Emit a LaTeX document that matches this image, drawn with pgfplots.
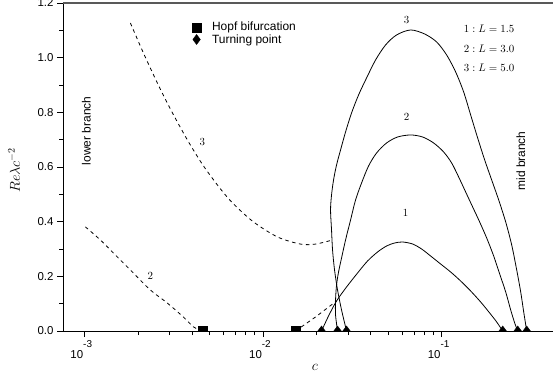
\documentclass[border=0pt]{standalone}
\usepackage[no-math]{fontspec}
\setmainfont{Liberation Sans}
\usepackage{pgfplots}
\pgfplotsset{compat=1.18}
\newcommand{\tenp}[1]{10\raisebox{0.98em}{\fontsize{10}{10}\selectfont #1}}
\begin{document}
\begin{tikzpicture}
\begin{axis}[
  scale only axis, width=490bp, height=328bp,
  xmode=log, xmin=7.6e-4, xmax=0.42, ymin=0, ymax=1.2,
  axis x line*=bottom, axis y line*=left,
  axis line style={line width=0.9pt, black},
  tick align=outside,
  major tick length=6bp, minor tick length=4bp,
  every tick/.style={black, line width=0.7pt},
  xtick={0.001,0.01,0.1},
  xticklabels={{\tenp{-3}},{\tenp{-2}},{\tenp{-1}}},
  xticklabel style={xshift=-3bp},
  ytick={0,0.2,0.4,0.6,0.8,1.0,1.2},
  minor ytick={0.1,0.3,0.5,0.7,0.9,1.1},
  yticklabel={\pgfmathprintnumber[fixed,fixed zerofill,precision=1,assume math mode=true]{\tick}},
  tick label style={font=\fontsize{11.5}{12}\selectfont},
  xlabel={$c$}, ylabel={$Re\lambda c^{-2}$},
  xlabel style={at={(axis description cs:0.514,-0.11)}, anchor=center, font=\fontsize{14}{14}\selectfont},
  ylabel style={at={(axis description cs:-0.1,0.49)}, anchor=center, font=\fontsize{14}{14}\selectfont},
  clip marker paths=true,
  legend style={at={(0.257,0.954)}, anchor=north west, draw=none, fill=none,
    font=\fontsize{12}{12}\selectfont, row sep=-2bp, column sep=9bp},
  legend cell align=left,
]
% lower branch L=3 (dashed)
\addplot[forget plot, black, line width=0.8pt, dash pattern=on 3.5bp off 3.5bp, smooth] coordinates {
(1.014e-3,0.381) (1.230e-3,0.333) (1.530e-3,0.271) (1.883e-3,0.212) (2.344e-3,0.150)
(2.918e-3,0.102) (3.589e-3,0.051) (4.085e-3,0.015) (4.585e-3,0)};
% lower branch L=5 (dashed)
\addplot[forget plot, black, line width=0.8pt, dash pattern=on 3.5bp off 3.5bp, smooth] coordinates {
(1.811e-3,1.127) (2.143e-3,1.017) (2.566e-3,0.907) (3.034e-3,0.812) (3.776e-3,0.699)
(4.645e-3,0.604) (5.781e-3,0.520) (6.839e-3,0.465) (8.852e-3,0.399) (1.206e-2,0.344)
(1.622e-2,0.318) (1.968e-2,0.318) (2.4514e-2,0.333)};
% lower branch L=1.5 (dashed)
\addplot[forget plot, black, line width=0.8pt, dash pattern=on 3.5bp off 3.5bp] coordinates {
(0.015207,0) (0.019684,0.0512) (0.025812,0.1098)};
% mid branch L=1.5
\addplot[forget plot, black, line width=0.8pt, smooth, tension=0.5] coordinates {
(0.021271,0) (0.023282,0.0549) (0.025812,0.1098) (0.029366,0.1610) (0.033843,0.2122)
(0.038499,0.2561) (0.043800,0.2891) (0.049190,0.3110) (0.054538,0.3220) (0.060467,0.3256)
(0.068792,0.3183) (0.077262,0.3000) (0.086771,0.2744) (0.098718,0.2451) (0.112311,0.2159)
(0.127775,0.1829) (0.145368,0.1464) (0.165382,0.1061) (0.185743,0.0659) (0.203297,0.0329)
(0.219658,0)};
% mid branch L=3
\addplot[forget plot, black, line width=0.8pt, smooth, tension=0.5] coordinates {
(0.026147,0) (0.025481,0.0585) (0.025481,0.1134) (0.025812,0.1683) (0.026487,0.2159)
(0.027532,0.2671) (0.028990,0.3330) (0.030921,0.4061) (0.032981,0.4793) (0.035635,0.5415)
(0.038999,0.6037) (0.043238,0.6513) (0.049190,0.6879) (0.056690,0.7098) (0.067040,0.7172)
(0.078265,0.7098) (0.090195,0.6879) (0.102614,0.6550) (0.113769,0.6147) (0.124520,0.5635)
(0.136288,0.5086) (0.149167,0.4537) (0.163262,0.3988) (0.178692,0.3403) (0.195580,0.2744)
(0.211320,0.2086) (0.228325,0.1427) (0.243534,0.0768) (0.256432,0.0293) (0.266551,0)};
% mid branch L=5
\addplot[forget plot, black, line width=0.8pt, smooth, tension=0.5] coordinates {
(0.029366,0) (0.027532,0.0768) (0.026147,0.1500) (0.025155,0.2232) (0.024514,0.2964)
(0.024200,0.3696) (0.023890,0.4427) (0.024200,0.4976) (0.024832,0.5525) (0.025812,0.6074)
(0.027179,0.6623) (0.028990,0.7281) (0.031323,0.7977) (0.034282,0.8635) (0.038005,0.9257)
(0.042684,0.9916) (0.048559,1.0465) (0.055963,1.0831) (0.067040,1.1013) (0.080311,1.0867)
(0.093754,1.0574) (0.106663,1.0099) (0.119794,0.9477) (0.132817,0.8745) (0.145368,0.7903)
(0.159103,0.7062) (0.174140,0.6257) (0.190598,0.5525) (0.208611,0.4793) (0.228325,0.3988)
(0.246696,0.3147) (0.263134,0.2232) (0.277070,0.1427) (0.288003,0.0695) (0.299367,0)};
% markers
\addplot[only marks, mark=square*, mark size=4.5bp, black] coordinates {(4.585e-3,0) (0.015207,0)};
\addlegendentry{Hopf bifurcation}
\addplot[only marks, mark=diamond*, mark size=5bp, black] coordinates {
(0.021271,0) (0.026147,0) (0.029366,0) (0.219658,0) (0.266551,0) (0.299367,0)};
\addlegendentry{Turning point}
% texts
\node[font=\fontsize{12}{12}\selectfont, rotate=90] at (axis cs:1.026e-3,0.732) {lower branch};
\node[font=\fontsize{12}{12}\selectfont, rotate=90] at (axis cs:0.2774,0.622) {mid branch};
\node[font=\fontsize{11}{11}\selectfont, anchor=west, inner sep=0pt] at (axis cs:0.1327,1.105) {$1:L=1.5$};
\node[font=\fontsize{11}{11}\selectfont, anchor=west, inner sep=0pt] at (axis cs:0.1327,1.032) {$2:L=3.0$};
\node[font=\fontsize{11}{11}\selectfont, anchor=west, inner sep=0pt] at (axis cs:0.1327,0.963) {$3:L=5.0$};
\node[font=\fontsize{11}{11}\selectfont] at (axis cs:6.37e-2,1.138) {$3$};
\node[font=\fontsize{11}{11}\selectfont] at (axis cs:6.37e-2,0.783) {$2$};
\node[font=\fontsize{11}{11}\selectfont] at (axis cs:6.28e-2,0.432) {$1$};
\node[font=\fontsize{11}{11}\selectfont] at (axis cs:4.585e-3,0.692) {$3$};
\node[font=\fontsize{11}{11}\selectfont] at (axis cs:2.344e-3,0.201) {$2$};
\draw[line width=1.6pt, black!65] (rel axis cs:0,1) -- (rel axis cs:1,1);
\coordinate (ll) at (rel axis cs:0,0);
\coordinate (ur) at (rel axis cs:1,1);
\end{axis}
\pgfresetboundingbox
\path[use as bounding box] ([shift={(-63bp,-45bp)}]ll) rectangle ([shift={(1bp,3bp)}]ur);
\end{tikzpicture}
\end{document}
